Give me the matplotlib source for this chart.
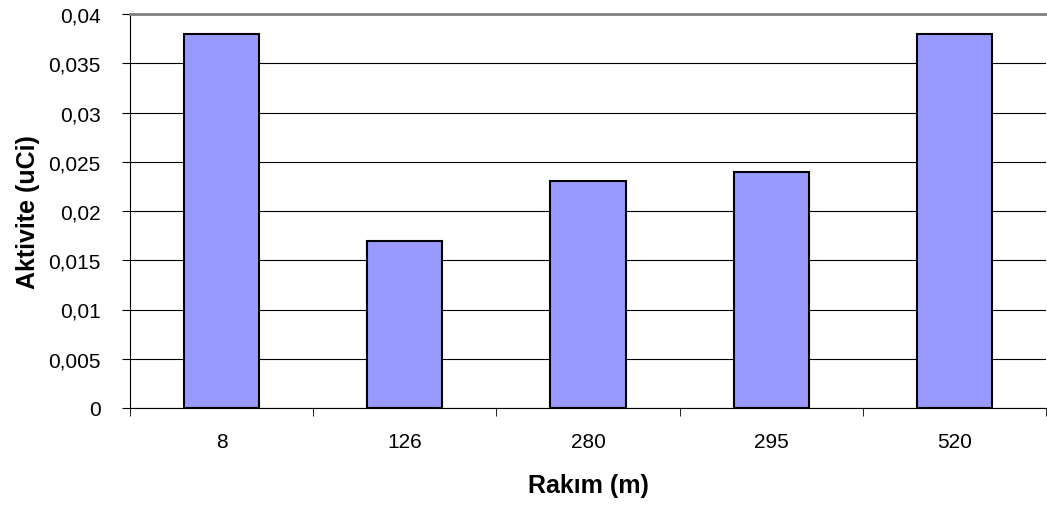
import matplotlib
matplotlib.use("Agg")
import matplotlib.pyplot as plt
from matplotlib.ticker import FuncFormatter, MultipleLocator
import numpy as np

categories = ["8", "126", "280", "295", "520"]
activity = [0.038, 0.017, 0.023, 0.024, 0.038]

plt.rcParams.update({"font.family": "Liberation Sans", "font.size": 15})

fig = plt.figure(figsize=(10.47, 5.06), dpi=100)
ax = fig.add_axes([130 / 1047, 1 - 409 / 506, 916 / 1047, 394 / 506])

x = np.arange(len(categories))
ax.bar(x, activity, width=0.41, color="#9999ff", edgecolor="black", linewidth=1.5, zorder=3)

ax.set_xlim(-0.5, len(categories) - 0.5)
ax.set_ylim(0, 0.04)
ax.yaxis.set_major_locator(MultipleLocator(0.005))
ax.yaxis.set_major_formatter(FuncFormatter(lambda v, _: "0" if v == 0 else f"{v:g}".replace(".", ",")))
ax.grid(axis="y", color="black", linewidth=0.8, zorder=0)

# category labels centred, ticks on category boundaries
ax.set_xticks(x)
ax.set_xticklabels(categories)
ax.tick_params(axis="x", length=0, pad=17)
ax.set_xticks(np.arange(-0.5, len(categories)), minor=True)
ax.tick_params(axis="x", which="minor", length=6, direction="out", color="black")
ax.tick_params(axis="y", length=6, direction="out", pad=15)

ax.spines["right"].set_visible(False)
ax.spines["top"].set_color("#808080")
ax.spines["top"].set_linewidth(2)
ax.spines["left"].set_color("black")
ax.spines["bottom"].set_color("black")

ax.set_ylabel("Aktivite (uCi)", fontweight="bold", fontsize=18)
ax.set_xlabel("Rakım (m)", fontweight="bold", fontsize=18)
ax.yaxis.set_label_coords(-0.098, 0.5)
ax.xaxis.set_label_coords(0.5, -0.165)

fig.savefig("out.png", dpi=100)
